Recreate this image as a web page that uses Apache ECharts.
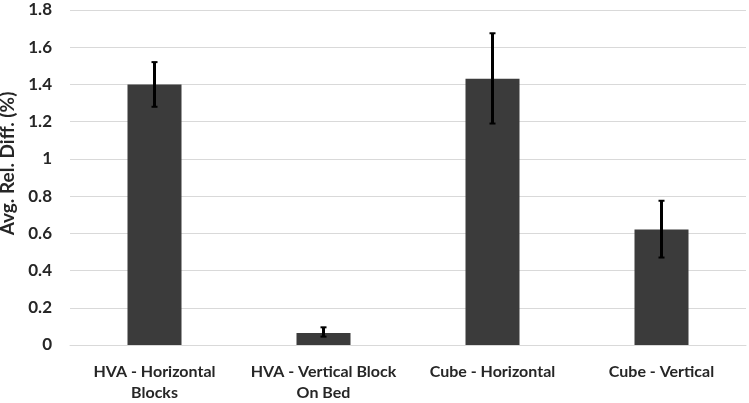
<!DOCTYPE html>
<html><head><meta charset="utf-8">
<script src="https://cdn.jsdelivr.net/npm/echarts@6/dist/echarts.min.js"></script>
<style>html,body{margin:0;padding:0;background:#fff}#c{width:749px;height:403px}</style>
</head><body><div id="c"></div>
<script>
const categories = ['HVA - Horizontal\nBlocks', 'HVA - Vertical Block\nOn Bed', 'Cube - Horizontal', 'Cube - Vertical'];
const values = [1.40, 0.065, 1.43, 0.62];
const errLow = [1.28, 0.045, 1.19, 0.47];
const errHigh = [1.52, 0.095, 1.675, 0.775];
const yTicks = [0, 0.2, 0.4, 0.6, 0.8, 1, 1.2, 1.4, 1.6, 1.8];

const FONT = 'Lato, "Open Sans", sans-serif';
const errData = categories.map((c, i) => [i, errLow[i], errHigh[i]]);
const chart = echarts.init(document.getElementById('c'));
chart.setOption({
  animation: false,
  grid: {left: 70, right: 3, top: 10, bottom: 58, containLabel: false, outerBoundsMode: 'none'},
  xAxis: {
    type: 'category', data: categories,
    axisLine: {lineStyle: {color: '#d9d9d9', width: 1}},
    axisTick: {show: false},
    axisLabel: {color: '#262626', fontFamily: FONT, fontWeight: 'bold', fontSize: 16, margin: 16, lineHeight: 21, interval: 0}
  },
  yAxis: {
    type: 'value', min: yTicks[0], max: yTicks[yTicks.length - 1], interval: 0.2,
    name: 'Avg. Rel. Diff. (%)', nameLocation: 'middle', nameGap: 42,
    nameTextStyle: {color: '#262626', fontFamily: FONT, fontWeight: 'bold', fontSize: 19, padding: [0, 0, 0, 28]},
    axisLine: {show: false}, axisTick: {show: false},
    axisLabel: {color: '#262626', fontFamily: FONT, fontWeight: 'bold', fontSize: 17, margin: 18,
      formatter: v => String(parseFloat(v.toFixed(1)))},
    splitLine: {lineStyle: {color: '#d9d9d9', width: 1}}
  },
  series: [
    {type: 'bar', data: values, barWidth: 54, itemStyle: {color: '#3b3b3b'}},
    {type: 'custom', data: errData, z: 10,
      renderItem: (params, api) => {
        const x = api.value(0);
        const lo = api.coord([x, api.value(1)]);
        const hi = api.coord([x, api.value(2)]);
        const cap = 3;
        const st = {stroke: '#000', lineWidth: 3};
        return {type: 'group', children: [
          {type: 'line', shape: {x1: lo[0], y1: lo[1], x2: hi[0], y2: hi[1]}, style: st},
          {type: 'line', shape: {x1: lo[0] - cap, y1: lo[1], x2: lo[0] + cap, y2: lo[1]}, style: {stroke: '#000', lineWidth: 2}},
          {type: 'line', shape: {x1: hi[0] - cap, y1: hi[1], x2: hi[0] + cap, y2: hi[1]}, style: {stroke: '#000', lineWidth: 2}}
        ]};
      }
    }
  ]
});
</script></body></html>
